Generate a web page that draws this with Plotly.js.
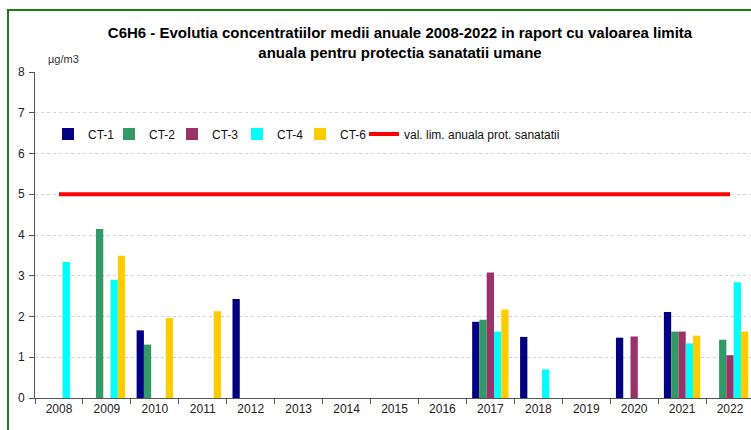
<!DOCTYPE html>
<html>
<head>
<meta charset="utf-8">
<script src="https://cdn.plot.ly/plotly-3.0.1.min.js"></script>
<style>
  html, body { margin: 0; padding: 0; overflow: hidden; background: #ffffff; width: 751px; height: 430px; }
  #wrap { position: relative; width: 751px; height: 430px; overflow: hidden; }
  #chart { position: absolute; left: 0; top: 0; width: 770px; height: 430px; }
  #frame { position: absolute; left: 7px; top: 9px; width: 800px; height: 500px; border: 2.5px solid #1c7c1c; box-sizing: border-box; pointer-events: none; }
</style>
</head>
<body>
<div id="wrap">
  <div id="chart"></div>
  <div id="frame"></div>
</div>
<script>
const years = ["2008","2009","2010","2011","2012","2013","2014","2015","2016","2017","2018","2019","2020","2021","2022"];
const ct1 = [null, null, 1.66, null, 2.43, null, null, null, null, 1.87, 1.50, null, 1.48, 2.11, null];
const ct2 = [null, 4.15, 1.31, null, null, null, null, null, null, 1.92, null, null, null, 1.63, 1.43];
const ct3 = [null, null, null, null, null, null, null, null, null, 3.08, null, null, 1.51, 1.63, 1.05];
const ct4 = [3.34, 2.90, null, null, null, null, null, null, null, 1.63, 0.70, null, null, 1.34, 2.84];
const ct6 = [null, 3.49, 1.96, 2.13, null, null, null, null, null, 2.17, null, null, null, 1.53, 1.63];
const limitVal = [5, 5, 5, 5, 5, 5, 5, 5, 5, 5, 5, 5, 5, 5, 5];
const seriesNames = ["CT-1", "CT-2", "CT-3", "CT-4", "CT-6"];
const seriesData = [ct1, ct2, ct3, ct4, ct6];
const seriesColors = ["#000080", "#339966", "#993366", "#00FFFF", "#FFCC00"];
const limitName = "val. lim. anuala prot. sanatatii";
const titleText = "C6H6 - Evolutia concentratiilor medii anuale 2008-2022 in raport cu valoarea limita<br>anuala pentru protectia sanatatii umane";
const unitText = "µg/m3";

const font = "Liberation Sans, Arial, sans-serif";

// legend entry pixel positions (text start) matching the reference layout
const legendTextX = [88, 149, 212, 277, 340, 404];
const legendKeys = ["legend", "legend2", "legend3", "legend4", "legend5", "legend6"];

const traces = seriesNames.map((n, i) => ({
  type: "bar",
  name: n,
  x: years,
  y: seriesData[i],
  marker: { color: seriesColors[i], line: { width: 0 } },
  legend: legendKeys[i]
}));
traces.push({
  type: "scatter",
  mode: "lines",
  name: limitName,
  x: years,
  y: limitVal,
  line: { color: "#FF0000", width: 4 },
  legend: legendKeys[5]
});

const legY = (398.5 - 134) / 326.5;

const layout = {
  width: 770,
  height: 430,
  margin: { l: 35, r: 16, t: 72, b: 31.5, pad: 0 },
  paper_bgcolor: "#ffffff",
  plot_bgcolor: "#ffffff",
  font: { family: font, size: 12, color: "#222222" },
  barmode: "group",
  bargap: 0.24,
  bargroupgap: 0,
  title: {
    text: titleText,
    font: { family: font, size: 15, color: "#000000", weight: "bold" },
    x: 400 / 770, xref: "container", xanchor: "center",
    y: 1 - 38 / 430, yref: "container", yanchor: "middle"
  },
  xaxis: {
    type: "category",
    tickson: "boundaries",
    ticks: "outside",
    ticklen: 5,
    tickcolor: "#555555",
    showline: true,
    linecolor: "#555555",
    linewidth: 1,
    showgrid: false,
    tickfont: { family: font, size: 12, color: "#222222" },
    fixedrange: true
  },
  yaxis: {
    range: [0, 8],
    dtick: 1,
    tick0: 0,
    ticks: "outside",
    ticklen: 5,
    tickcolor: "#555555",
    showline: true,
    linecolor: "#555555",
    linewidth: 1,
    showgrid: true,
    gridcolor: "#d4d4d4",
    griddash: "dot",
    gridwidth: 1,
    zeroline: false,
    ticklabelstandoff: 2,
    tickfont: { family: font, size: 12, color: "#222222" },
    fixedrange: true
  },
  annotations: [{
    text: unitText,
    xref: "paper", yref: "paper",
    x: (46 - 35) / 719, y: (398.5 - 59) / 326.5,
    xanchor: "left", yanchor: "middle",
    showarrow: false,
    font: { family: font, size: 11, color: "#333333" }
  }],
  showlegend: true
};

legendKeys.forEach((k, i) => {
  layout[k] = {
    orientation: "h",
    x: (legendTextX[i] - 40 - 35) / 719,
    xanchor: "left",
    y: legY,
    yanchor: "middle",
    bgcolor: "rgba(0,0,0,0)",
    borderwidth: 0,
    font: { family: font, size: 12, color: "#111111" }
  };
});

Plotly.newPlot("chart", traces, layout, { displayModeBar: false, staticPlot: true });
</script>
</body>
</html>
